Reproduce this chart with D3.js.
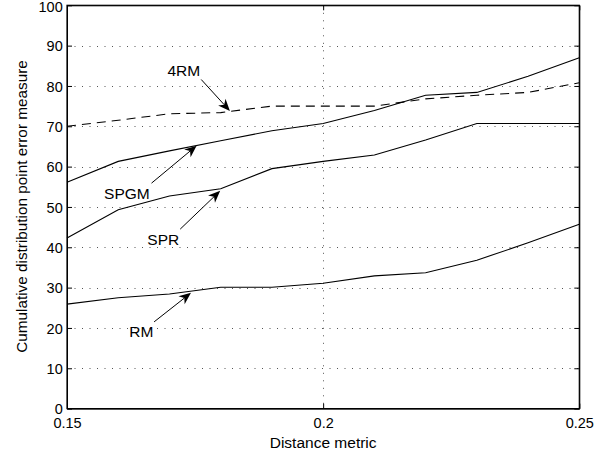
<!DOCTYPE html>
<html>
<head>
<meta charset="utf-8">
<script src="https://cdn.jsdelivr.net/npm/d3@7/dist/d3.min.js"></script>
<style>
  html, body { margin: 0; padding: 0; background: #fff; }
  svg { display: block; }
  text { font-family: "Liberation Sans", Arial, Helvetica, sans-serif; fill: #000; }
</style>
</head>
<body>
<svg id="chart" width="616" height="456"></svg>
<script>
// ---- data ----
const distances = [0.15, 0.16, 0.17, 0.18, 0.19, 0.20, 0.21, 0.22, 0.23, 0.24, 0.25];
const rm4Values = [70.0, 71.5, 73.1, 73.4, 75.0, 75.0, 75.0, 76.8, 77.7, 78.4, 80.8];
const spgmValues = [56.1, 61.3, 63.9, 66.4, 68.9, 70.7, 73.9, 77.7, 78.4, 82.4, 87.0];
const sprValues = [42.3, 49.3, 52.7, 54.5, 59.5, 61.3, 62.9, 66.6, 70.7, 70.7, 70.7];
const rmValues = [25.9, 27.5, 28.4, 30.1, 30.1, 31.1, 32.9, 33.7, 36.8, 41.1, 45.7];
const xTicks = [0.15, 0.2, 0.25];
const xTickLabels = ["0.15", "0.2", "0.25"];
const yTicks = [0, 10, 20, 30, 40, 50, 60, 70, 80, 90, 100];
const seriesNames = ["4RM", "SPGM", "SPR", "RM"];
// annotation: label text position and arrow start/tip (data coordinates)
const annoLabels = ["4RM", "SPGM", "SPR", "RM"];
const annoTextX = [0.1728, 0.1617, 0.1688, 0.1645];
const annoTextY = [82.5, 52.0, 40.5, 17.75];
const annoFromX = [0.1762, 0.1665, 0.1721, 0.1670];
const annoFromY = [81.6, 55.9, 44.5, 21.5];
const annoTipX = [0.1818, 0.1753, 0.1799, 0.1742];
const annoTipY = [73.8, 65.2, 54.0, 28.7];

const xLabel = "Distance metric";
const yLabel = "Cumulative distribution point error measure";

// ---- layout ----
const svg = d3.select("#chart");
const pLeft = 67, pTop = 5.3, pRight = 579.3, pBottom = 408.6;
const x = d3.scaleLinear().domain([0.15, 0.25]).range([pLeft, pRight]);
const y = d3.scaleLinear().domain([0, 100]).range([pBottom, pTop]);

// grid
const grid = svg.append("g").attr("stroke", "#555").attr("stroke-width", 1)
  .attr("stroke-dasharray", "1,6.5");
grid.selectAll("line.h").data(yTicks.filter(t => t > 0 && t < 100)).join("line")
  .attr("x1", pLeft).attr("x2", pRight)
  .attr("y1", d => Math.round(y(d)) + 0.5).attr("y2", d => Math.round(y(d)) + 0.5);
grid.selectAll("line.v").data(xTicks.filter(t => t > 0.15 && t < 0.25)).join("line")
  .attr("y1", pTop).attr("y2", pBottom)
  .attr("x1", d => Math.round(x(d)) + 0.5).attr("x2", d => Math.round(x(d)) + 0.5);

// axes with inward ticks
const tickFont = "14.5px";
const axB = svg.append("g").attr("transform", `translate(0,${pBottom})`)
  .call(d3.axisBottom(x).tickValues(xTicks).tickFormat((d, i) => xTickLabels[i]).tickSizeInner(-5).tickSizeOuter(0));
const axT = svg.append("g").attr("transform", `translate(0,${pTop})`)
  .call(d3.axisTop(x).tickValues(xTicks).tickFormat("").tickSizeInner(-5).tickSizeOuter(0));
const axL = svg.append("g").attr("transform", `translate(${pLeft},0)`)
  .call(d3.axisLeft(y).tickValues(yTicks).tickSizeInner(-5).tickSizeOuter(0).tickPadding(5));
const axR = svg.append("g").attr("transform", `translate(${pRight},0)`)
  .call(d3.axisRight(y).tickValues(yTicks).tickFormat("").tickSizeInner(-5).tickSizeOuter(0));
[axB, axT, axL, axR].forEach(a => {
  a.selectAll("path").attr("stroke", "#000");
  a.selectAll("line").attr("stroke", "#000");
  a.selectAll("text").style("font-size", tickFont)
    .style("font-family", '"Liberation Sans", Arial, Helvetica, sans-serif').attr("fill", "#000");
});
axB.selectAll("text").attr("y", 428 - pBottom).attr("dy", 0);
axL.selectAll("text").attr("x", 62.7 - pLeft).attr("dy", (d) => d === 100 ? "0.42em" : "0.35em");
svg.append("rect").attr("x", pLeft).attr("y", pTop).attr("width", pRight - pLeft).attr("height", pBottom - pTop)
  .attr("fill", "none").attr("stroke", "#000").attr("stroke-width", 1.2);

// lines
const line = d3.line().x((d, i) => x(distances[i])).y(d => y(d));
const allSeries = [rm4Values, spgmValues, sprValues, rmValues];
svg.append("g").selectAll("path").data(allSeries).join("path")
  .attr("d", d => line(d))
  .attr("fill", "none").attr("stroke", "#000").attr("stroke-width", 1.1)
  .attr("stroke-dasharray", (d, i) => i === 0 ? "9,6" : null);

// annotations
const anno = svg.append("g");
annoLabels.forEach((lab, i) => {
  const x0 = x(annoFromX[i]), y0 = y(annoFromY[i]);
  const x1 = x(annoTipX[i]), y1 = y(annoTipY[i]);
  const ang = Math.atan2(y1 - y0, x1 - x0);
  const L = 12, W = 5, N = 3.5;
  const bx = x1 - L * Math.cos(ang), by = y1 - L * Math.sin(ang);
  const nx = x1 - (L - N) * Math.cos(ang), ny = y1 - (L - N) * Math.sin(ang);
  const px = -Math.sin(ang), py = Math.cos(ang);
  anno.append("line").attr("x1", x0).attr("y1", y0).attr("x2", nx).attr("y2", ny)
    .attr("stroke", "#000").attr("stroke-width", 1);
  anno.append("path")
    .attr("d", `M${x1},${y1}L${bx + W * px},${by + W * py}L${nx},${ny}L${bx - W * px},${by - W * py}Z`)
    .attr("fill", "#000");
  anno.append("text").attr("x", x(annoTextX[i])).attr("y", y(annoTextY[i]))
    .attr("text-anchor", "middle").style("font-size", "15.5px").text(lab);
});

// axis labels
svg.append("text").attr("x", (pLeft + pRight) / 2).attr("y", 448)
  .attr("text-anchor", "middle").style("font-size", "15.5px").text(xLabel);
svg.append("text").attr("transform", `translate(26.5,206.5) rotate(-90)`)
  .attr("text-anchor", "middle").style("font-size", "15.3px").text(yLabel);
</script>
</body>
</html>
